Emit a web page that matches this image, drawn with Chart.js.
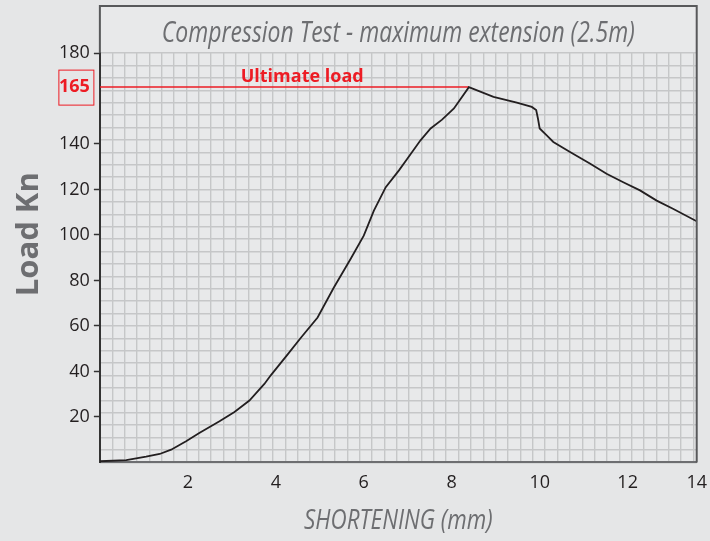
<!DOCTYPE html>
<html>
<head>
<meta charset="utf-8">
<script src="https://cdn.jsdelivr.net/npm/chart.js@4/dist/chart.umd.min.js"></script>
<style>
  html, body { margin: 0; padding: 0; background: #e5e6e7; }
  #wrap { width: 710px; height: 541px; }
</style>
</head>
<body>
<div id="wrap"><canvas id="chart" width="710" height="541"></canvas></div>
<script>
// curve: shortening (mm) vs load (kN)
const shortening = [0, 0.60, 1.05, 1.36, 1.62, 1.96, 2.26, 2.72, 3.06, 3.40, 3.74, 3.89, 4.27, 4.57, 4.95,
    5.32, 5.70, 6.00, 6.23, 6.50, 6.80, 6.99, 7.29, 7.52, 7.78, 8.05, 8.39,
    8.95, 9.48, 9.82, 9.92, 9.96, 10.00, 10.16, 10.31, 10.69, 11.15, 11.52, 11.90, 12.28, 12.66, 13.03, 13.57];
const load = [0.5, 1.0, 2.5, 3.7, 5.6, 9.3, 12.9, 18.1, 22.2, 27.2, 34.5, 38.4, 47.5, 54.8, 63.7,
    76.9, 89.4, 99.7, 110.7, 121.0, 128.4, 133.5, 141.6, 146.8, 150.7, 155.6, 165,
    160.7, 158.2, 156.3, 154.9, 151.2, 146.8, 143.8, 140.9, 136.5, 131.3, 126.9, 123.2, 119.6, 115.1, 111.5, 106.0];

const xTickValues = [2, 4, 6, 8, 10, 12, 14];
const yTickValues = [20, 40, 60, 80, 100, 120, 140, 165, 180];
const ultimateLoad = 165;

const chartTitle = 'Compression Test - maximum extension (2.5m)';
const xTitle = 'SHORTENING (mm)';
const yTitle = 'Load Kn';

const xMax = 13.57;   // right edge of the plot (the "14" label sits on it)
const yMax = 180;
const gridStepX = 0.2812;
const gridStepY = yMax / 33;

const RED = '#ed1c24';
const GREY_TEXT = '#6d6e71';
const TICK_TEXT = '#231f20';
const SANS = '"Open Sans", sans-serif';

const points = shortening.map((x, i) => ({ x: x, y: load[i] }));
const peakX = shortening[load.indexOf(Math.max(...load))];

// narrow italic text: no condensed face installed, so squeeze Open Sans
function narrowText(ctx, text, x, y, size, squeeze) {
    ctx.save();
    ctx.translate(x, y);
    ctx.scale(squeeze, 1);
    ctx.font = 'italic ' + size + 'px ' + SANS;
    ctx.fillStyle = GREY_TEXT;
    ctx.textAlign = 'center';
    ctx.textBaseline = 'middle';
    ctx.fillText(text, 0, 0);
    ctx.restore();
}

// frame above the grid, titles and the red annotations
const framePlugin = {
    id: 'frame',
    beforeDraw(chart) {
        const { ctx, chartArea } = chart;
        ctx.save();
        ctx.fillStyle = '#e8e9ea';
        ctx.fillRect(chartArea.left, 6, chartArea.right - chartArea.left, chartArea.bottom - 6);
        ctx.restore();
    },
    afterDraw(chart) {
        const { ctx, chartArea } = chart;
        const y = chart.scales.y;
        const x = chart.scales.x;
        const midX = (chartArea.left + chartArea.right) / 2;
        ctx.save();
        ctx.strokeStyle = '#58595b';
        ctx.lineWidth = 2;
        ctx.beginPath();
        ctx.moveTo(chartArea.left, chartArea.top);
        ctx.lineTo(chartArea.left, 6);
        ctx.lineTo(chartArea.right, 6);
        ctx.lineTo(chartArea.right, chartArea.bottom);
        ctx.stroke();

        // box round the 165 label
        const py = y.getPixelForValue(ultimateLoad);
        ctx.strokeStyle = RED;
        ctx.lineWidth = 1;
        ctx.strokeRect(chartArea.left - 41, py - 17, 35, 35);

        ctx.fillStyle = RED;
        ctx.font = 'bold 18px ' + SANS;
        ctx.textAlign = 'center';
        ctx.textBaseline = 'alphabetic';
        ctx.fillText('Ultimate load', x.getPixelForValue(4.6), py - 5);

        // axis titles
        ctx.save();
        ctx.translate(29, (6 + chartArea.bottom) / 2);
        ctx.rotate(-Math.PI / 2);
        ctx.font = 'bold 31px ' + SANS;
        ctx.fillStyle = GREY_TEXT;
        ctx.textAlign = 'center';
        ctx.textBaseline = 'middle';
        ctx.fillText(yTitle, 0, 0);
        ctx.restore();
        ctx.restore();

        narrowText(ctx, chartTitle, midX, 33, 30, 0.765);
        narrowText(ctx, xTitle, midX, 521, 28, 0.8);
    }
};

new Chart(document.getElementById('chart'), {
    type: 'line',
    data: {
        datasets: [{
            data: points,
            borderColor: '#231f20',
            borderWidth: 1.8,
            pointRadius: 0,
            tension: 0
        }, {
            data: [{ x: 0, y: ultimateLoad }, { x: peakX, y: ultimateLoad }],
            borderColor: RED,
            borderWidth: 1.5,
            pointRadius: 0
        }]
    },
    options: {
        responsive: false,
        animation: false,
        layout: { padding: { left: 55, right: 3, top: 53, bottom: 44 } },
        plugins: {
            legend: { display: false },
            tooltip: { enabled: false }
        },
        scales: {
            x: {
                type: 'linear',
                min: 0,
                max: xMax,
                afterBuildTicks: s => { s.ticks = xTickValues.map(v => ({ value: Math.min(v, xMax) })); },
                ticks: {
                    callback: (v, i) => xTickValues[i],
                    color: TICK_TEXT,
                    font: { family: SANS, size: 18 },
                    padding: 3,
                    maxRotation: 0,
                    autoSkip: false
                },
                grid: { drawOnChartArea: false, drawTicks: true, tickLength: 7, tickColor: 'rgba(0,0,0,0)' },
                border: { color: '#6d6e71', width: 2 }
            },
            y: {
                type: 'linear',
                min: 0,
                max: yMax,
                afterBuildTicks: s => { s.ticks = yTickValues.map(v => ({ value: v })); },
                ticks: {
                    color: c => c.tick && c.tick.value === ultimateLoad ? RED : TICK_TEXT,
                    font: c => ({
                        family: SANS,
                        size: 18,
                        weight: c.tick && c.tick.value === ultimateLoad ? 'bold' : 'normal'
                    }),
                    padding: 4
                },
                grid: {
                    drawOnChartArea: false,
                    tickLength: 6,
                    tickWidth: 1.5,
                    tickColor: c => c.tick && c.tick.value === ultimateLoad ? 'rgba(0,0,0,0)' : '#333'
                },
                border: { color: '#333', width: 2 }
            },
            xGrid: {
                type: 'linear',
                position: 'bottom',
                min: 0,
                max: xMax,
                afterBuildTicks: s => {
                    const t = [];
                    for (let v = 0; v <= xMax; v += gridStepX) t.push({ value: v });
                    s.ticks = t;
                },
                ticks: { display: false, callback: () => '' },
                grid: { color: '#c6c7c8', lineWidth: 1.4, drawTicks: false },
                border: { display: false }
            },
            yGrid: {
                type: 'linear',
                position: 'left',
                min: 0,
                max: yMax,
                afterBuildTicks: s => {
                    const t = [];
                    for (let i = 0; i <= 33; i++) t.push({ value: i * gridStepY });
                    s.ticks = t;
                },
                ticks: { display: false, callback: () => '' },
                grid: { color: '#c6c7c8', lineWidth: 1.4, drawTicks: false },
                border: { display: false }
            }
        }
    },
    plugins: [framePlugin]
});
</script>
</body>
</html>
